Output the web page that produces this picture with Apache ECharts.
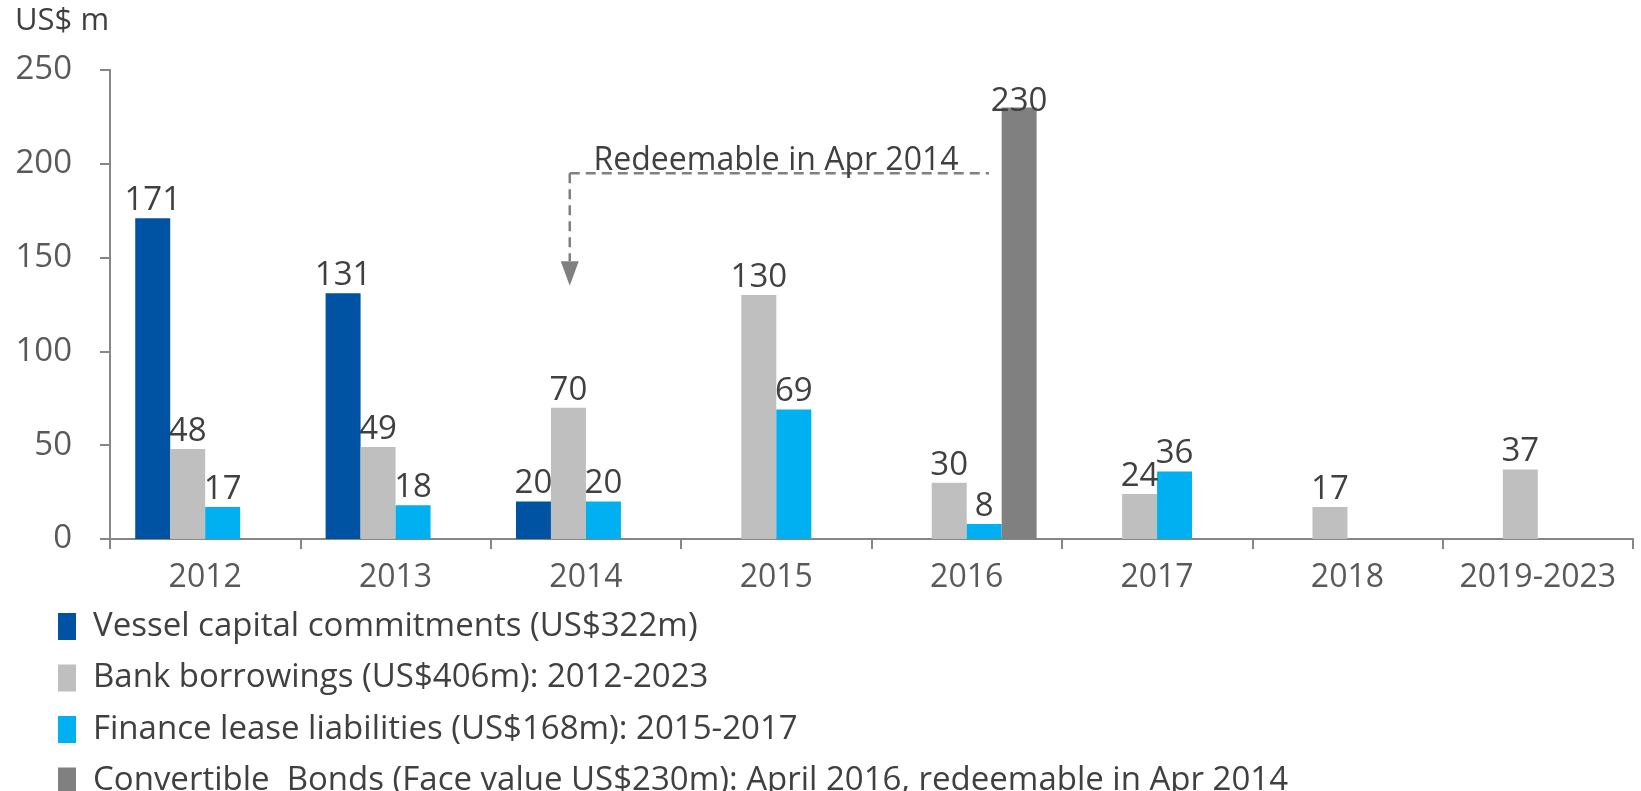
<!DOCTYPE html>
<html>
<head>
<meta charset="utf-8">
<script src="https://cdn.jsdelivr.net/npm/echarts@6/dist/echarts.min.js"></script>
<style>
  html, body { margin: 0; padding: 0; background: #fff; }
  #chart { width: 1641px; height: 791px; }
</style>
</head>
<body>
<div id="chart"></div>
<script>
var years = ['2012', '2013', '2014', '2015', '2016', '2017', '2018', '2019-2023'];
var vessel = [171, 131, 20, null, null, null, null, null];
var bank = [48, 49, 70, 130, 30, 24, 17, 37];
var lease = [17, 18, 20, 69, 8, 36, null, null];
var bonds = [null, null, null, null, 230, null, null, null];
var seriesNames = [
  'Vessel capital commitments (US$322m)',
  'Bank borrowings (US$406m): 2012-2023',
  'Finance lease liabilities (US$168m): 2015-2017',
  'Convertible  Bonds (Face value US$230m): April 2016, redeemable in Apr 2014'
];
var colors = ['#0052A3', '#BFBFBF', '#00B0F0', '#808080'];
var yTicks = [0, 50, 100, 150, 200, 250];
var noteText = 'Redeemable in Apr 2014';
var noteLineValue = 195;   // horizontal dashed line level
var arrowTipValue = 135;
var arrowTopValue = 148;

var font = 'Open Sans';
var chart = echarts.init(document.getElementById('chart'));

function barSeries(name, data, color, extraLabel) {
  return {
    name: name,
    type: 'bar',
    data: data,
    itemStyle: { color: color },
    barGap: '0%',
    barCategoryGap: '26.5%',
    label: Object.assign({
      show: true,
      position: 'top',
      distance: 1,
      color: '#404040',
      fontFamily: font,
      fontSize: 33
    }, extraLabel || {})
  };
}

var option = {
  animation: false,
  title: {
    text: 'US$ m',
    left: 10,
    top: 1,
    textStyle: { fontFamily: font, fontSize: 31, fontWeight: 'normal', color: '#404040' }
  },
  grid: { left: 110, right: 8, top: 70, bottom: 252, containLabel: false },
  legend: {
    orient: 'vertical',
    left: 58,
    top: 610,
    height: 400,
    padding: 0,
    itemWidth: 18,
    itemHeight: 27,
    itemGap: 18.5,
    icon: 'rect',
    selectedMode: false,
    textStyle: { fontFamily: font, fontSize: 33, color: '#404040', padding: [0, 0, 0, 12], lineHeight: 27 }
  },
  xAxis: {
    type: 'category',
    data: years,
    axisLine: { lineStyle: { color: '#868686', width: 2 } },
    axisTick: { show: true, length: 10, interval: 0, lineStyle: { color: '#868686', width: 2 } },
    axisLabel: { interval: 0, margin: 23, color: '#595959', fontFamily: font, fontSize: 32 }
  },
  yAxis: {
    type: 'value',
    min: yTicks[0],
    max: yTicks[yTicks.length - 1],
    interval: 50,
    splitLine: { show: false },
    axisLine: { show: true, lineStyle: { color: '#868686', width: 2 } },
    axisTick: { show: true, length: 10, lineStyle: { color: '#868686', width: 2 } },
    axisLabel: { margin: 38, color: '#595959', fontFamily: font, fontSize: 33 }
  },
  series: [
    barSeries(seriesNames[0], vessel, colors[0]),
    barSeries(seriesNames[1], bank, colors[1]),
    barSeries(seriesNames[2], lease, colors[2]),
    barSeries(seriesNames[3], bonds, colors[3], { distance: -11 })
  ]
};
chart.setOption(option);

// annotation placed through the axes
var c2014 = chart.convertToPixel({ xAxisIndex: 0 }, '2014');
var c2016 = chart.convertToPixel({ xAxisIndex: 0 }, '2016');
var band = chart.convertToPixel({ xAxisIndex: 0 }, '2015') - c2014;
var yLine = chart.convertToPixel({ yAxisIndex: 0 }, noteLineValue);
var yTip = chart.convertToPixel({ yAxisIndex: 0 }, arrowTipValue);
var yTop = chart.convertToPixel({ yAxisIndex: 0 }, arrowTopValue);
var xArrow = c2014 - 0.085 * band;
var xEnd = c2016 + 0.117 * band;
var dashStyle = { stroke: '#808080', lineWidth: 2.5, lineDash: [10, 6] };

chart.setOption({
  graphic: [
    { type: 'line', shape: { x1: xArrow, y1: yLine, x2: xEnd, y2: yLine }, style: dashStyle, z: 50 },
    { type: 'line', shape: { x1: xArrow, y1: yLine, x2: xArrow, y2: yTop }, style: dashStyle, z: 50 },
    {
      type: 'polygon',
      shape: { points: [[xArrow - 9, yTop], [xArrow + 9, yTop], [xArrow, yTip]] },
      style: { fill: '#808080' },
      z: 50
    },
    {
      type: 'text',
      x: c2014 + 0.04 * band,
      y: yLine + 4,
      style: {
        text: noteText,
        font: '32px "' + font + '"',
        fill: '#404040',
        textAlign: 'left',
        textVerticalAlign: 'bottom'
      },
      z: 51
    }
  ]
});
</script>
</body>
</html>
